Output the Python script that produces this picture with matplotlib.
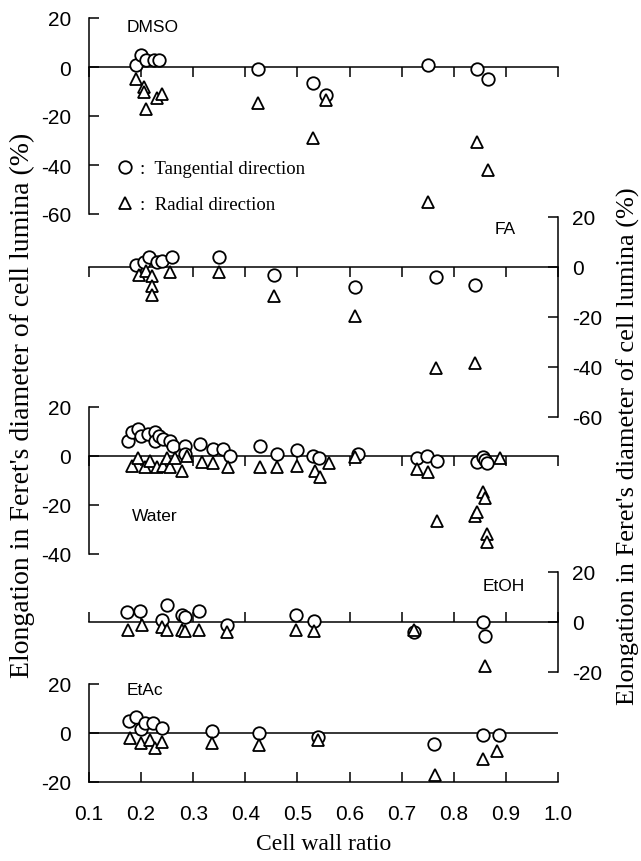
import matplotlib
matplotlib.use('agg')
from matplotlib import pyplot as plt

plt.rcParams['axes.unicode_minus'] = False

# ---- data ----
xticks = [0.1, 0.2, 0.3, 0.4, 0.5, 0.6, 0.7, 0.8, 0.9, 1.0]
xticklabels = ['0.1', '0.2', '0.3', '0.4', '0.5', '0.6', '0.7', '0.8', '0.9', '1.0']

dmso_tan_x = [0.19, 0.20, 0.21, 0.225, 0.235, 0.425, 0.53, 0.555, 0.75, 0.845, 0.865]
dmso_tan_y = [1, 5, 3, 3, 3, -1, -6.5, -11.5, 1, -1, -5]
dmso_rad_x = [0.19, 0.205, 0.205, 0.21, 0.23, 0.24, 0.425, 0.53, 0.555, 0.75, 0.845, 0.865]
dmso_rad_y = [-5, -8, -10, -17, -12.5, -11, -14.5, -29, -13.5, -55, -30.5, -42]

fa_tan_x = [0.19, 0.205, 0.215, 0.23, 0.24, 0.26, 0.35, 0.455, 0.61, 0.765, 0.84]
fa_tan_y = [1, 2, 4, 2, 2.5, 4, 4, -3, -8, -4, -7]
fa_rad_x = [0.195, 0.21, 0.22, 0.22, 0.22, 0.255, 0.35, 0.455, 0.61, 0.765, 0.84]
fa_rad_y = [-3, -1.5, -3.5, -7.5, -11, -2, -2, -11.5, -19.5, -40.5, -38.5]

water_tan_x = [0.175, 0.183, 0.194, 0.20, 0.213, 0.227, 0.227, 0.235, 0.242, 0.255,
               0.261, 0.284, 0.284, 0.313, 0.338, 0.357, 0.371, 0.428, 0.461, 0.499,
               0.53, 0.541, 0.616, 0.729, 0.749, 0.768, 0.845, 0.856, 0.86, 0.864]
water_tan_y = [6, 10, 11, 8, 9, 10, 6, 8, 7, 6,
               4, 4, 1, 5, 3, 3, 0, 4, 1, 2.5,
               0, -1, 1, -1, 0, -2, -2.5, -0.5, -1.5, -3]
water_rad_x = [0.183, 0.194, 0.207, 0.217, 0.23, 0.242, 0.25, 0.255, 0.265, 0.278,
               0.288, 0.317, 0.338, 0.367, 0.428, 0.461, 0.499, 0.534, 0.543, 0.56,
               0.61, 0.729, 0.751, 0.768, 0.841, 0.845, 0.856, 0.86, 0.864, 0.864, 0.889]
water_rad_y = [-4, -1, -4.5, -2, -4.5, -4, -1, -4.5, -1, -6,
               0, -2.5, -3, -4.5, -4.5, -4.5, -4, -6, -8.5, -3,
               -0.5, -5.5, -6.5, -26.5, -24.5, -23, -14.5, -17, -32, -35, -1]

etoh_tan_x = [0.173, 0.198, 0.24, 0.25, 0.278, 0.284, 0.311, 0.365, 0.497, 0.532, 0.724, 0.856, 0.86]
etoh_tan_y = [4, 4.5, 1, 7, 3, 2, 4.5, -1, 3, 0.5, -4, 0, -5.5]
etoh_rad_x = [0.175, 0.202, 0.24, 0.25, 0.278, 0.284, 0.311, 0.365, 0.497, 0.532, 0.724, 0.86]
etoh_rad_y = [-3, -1, -2, -3, -3, -3.5, -3, -4, -3, -3.5, -3, -17.5]

etac_tan_x = [0.177, 0.19, 0.2, 0.207, 0.223, 0.24, 0.336, 0.426, 0.539, 0.762, 0.856, 0.887]
etac_tan_y = [5, 6.5, 1.5, 4, 4, 2, 1, 0, -1.5, -4.5, -1, -1]
etac_rad_x = [0.179, 0.2, 0.217, 0.227, 0.24, 0.336, 0.426, 0.539, 0.764, 0.856, 0.883]
etac_rad_y = [-2, -4, -3, -6, -3.5, -4, -5, -3, -17, -10.5, -7.5]

W, H = 641, 862
fig = plt.figure(figsize=(W / 100, H / 100), dpi=100)

x0, x1 = 89, 558
sans = 'Liberation Sans'
serif = 'Liberation Serif'
circ = dict(marker='o', ls='none', ms=9, mfc='white', mec='black', mew=1.3)
tri = dict(marker='^', ls='none', ms=8.5, mfc='white', mec='black', mew=1.3)


def panel(top, bottom, ylim, yticks, side, xdir, name, name_xy,
          tx, ty, rx, ry, zero_spine=True):
    ax = fig.add_axes([x0 / W, 1 - bottom / H, (x1 - x0) / W, (bottom - top) / H])
    ax.set_facecolor('none')
    ax.set_xlim(0.1, 1.0)
    ax.set_ylim(*ylim)
    for s in ['top', 'left', 'right', 'bottom']:
        ax.spines[s].set_visible(False)
    ax.spines[side].set_visible(True)
    ax.spines['bottom'].set_visible(True)
    ax.spines[side].set_linewidth(1.1)
    ax.spines['bottom'].set_linewidth(1.1)
    if zero_spine:
        ax.spines['bottom'].set_position(('data', 0))
    ax.set_xticks(xticks)
    ax.tick_params(axis='x', direction=xdir, length=7, width=1.1,
                   labelbottom=False)
    ax.set_yticks(yticks)
    ax.set_yticklabels([str(v) for v in yticks], fontfamily=sans, fontsize=15)
    if side == 'left':
        ax.tick_params(axis='y', direction='in', length=7, width=1.1, pad=13,
                       left=True, right=False, labelleft=True, labelright=False)
    else:
        ax.tick_params(axis='y', direction='in', length=7, width=1.1, pad=10,
                       left=False, right=True, labelleft=False, labelright=True)
    ax.plot(tx, ty, zorder=3, clip_on=False, **circ)
    ax.plot(rx, ry, zorder=3, clip_on=False, **tri)
    ax.text((name_xy[0] - x0) / (x1 - x0), (bottom - name_xy[1]) / (bottom - top),
            name, transform=ax.transAxes, fontfamily=sans, fontsize=12.5,
            ha='left', va='center')
    return ax


ax_dmso = panel(19, 215, (-60, 20), [20, 0, -20, -40, -60], 'left', 'out',
                'DMSO', (127, 28), dmso_tan_x, dmso_tan_y, dmso_rad_x, dmso_rad_y)
ax_fa = panel(218, 418, (-60, 20), [20, 0, -20, -40, -60], 'right', 'out',
              'FA', (495, 230), fa_tan_x, fa_tan_y, fa_rad_x, fa_rad_y)
ax_water = panel(408, 555, (-40, 20), [20, 0, -20, -40], 'left', 'out',
                 'Water', (132, 517), water_tan_x, water_tan_y, water_rad_x, water_rad_y)
ax_etoh = panel(573, 673, (-20, 20), [20, 0, -20], 'right', 'in',
                'EtOH', (483, 587), etoh_tan_x, etoh_tan_y, etoh_rad_x, etoh_rad_y)
ax_etac = panel(685, 783, (-20, 20), [20, 0, -20], 'left', 'in',
                'EtAc', (127, 691), etac_tan_x, etac_tan_y, etac_rad_x, etac_rad_y,
                zero_spine=False)
ax_etac.axhline(0, color='black', lw=1.1, zorder=1)
ax_etac.set_xticklabels(xticklabels, fontfamily=sans, fontsize=15)
ax_etac.tick_params(axis='x', labelbottom=True, pad=16)
ax_etac.set_xlabel('Cell wall ratio', fontfamily=serif, fontsize=17, labelpad=7)

# legend inside the DMSO panel
h1, = ax_dmso.plot([], [], **circ)
h2, = ax_dmso.plot([], [], **tri)
ax_dmso.legend([h1, h2], [':  Tangential direction', ':  Radial direction'],
               loc='upper left', bbox_to_anchor=(0.058, 0.275), frameon=False,
               borderaxespad=0, borderpad=0, handlelength=0.9, handletextpad=0.35,
               labelspacing=1.0, prop=dict(family=serif, size=13.5))

ylab = "Elongation in Feret's diameter of cell lumina (%)"
fig.text(22 / W, 1 - 405 / H, ylab, rotation=90, ha='center', va='center',
         fontfamily=serif, fontsize=20)
fig.text(628 / W, 1 - 446 / H, ylab, rotation=90, ha='center', va='center',
         fontfamily=serif, fontsize=19)

fig.savefig('out.png', dpi=100)
